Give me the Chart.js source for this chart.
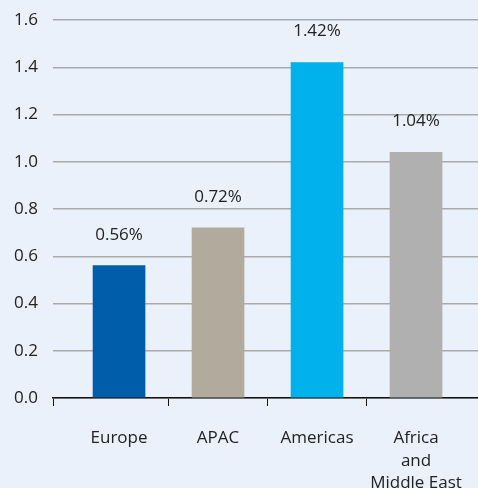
<!DOCTYPE html>
<html>
<head>
<meta charset="utf-8">
<script src="https://cdn.jsdelivr.net/npm/chart.js@4/dist/chart.umd.min.js"></script>
<style>
  html, body { margin: 0; padding: 0; background: #eaf1fb; }
  #wrap { width: 478px; height: 488px; }
</style>
</head>
<body>
<div id="wrap"><canvas id="chart"></canvas></div>
<script>
var categories = [['Europe'], ['APAC'], ['Americas'], ['Africa', 'and', 'Middle East']];
var values = [0.56, 0.72, 1.42, 1.04];
var barColors = ['#005daa', '#b3aa9e', '#00b1eb', '#b0b0b0'];
var yTicks = [0, 0.2, 0.4, 0.6, 0.8, 1.0, 1.2, 1.4, 1.6];

var FONT = "'Open Sans', sans-serif";
var FSIZE = 17;

var valueLabels = {
  id: 'valueLabels',
  afterDatasetsDraw: function(chart) {
    var ctx = chart.ctx;
    var meta = chart.getDatasetMeta(0);
    ctx.save();
    ctx.font = FSIZE + 'px ' + FONT;
    ctx.fillStyle = '#222';
    ctx.textAlign = 'center';
    ctx.textBaseline = 'middle';
    meta.data.forEach(function(bar, i) {
      ctx.fillText(values[i].toFixed(2) + '%', bar.x, bar.y - 31);
    });
    ctx.restore();
  }
};

new Chart(document.getElementById('chart'), {
  type: 'bar',
  data: {
    datasets: [{
      data: values.map(function(v, i) { return { x: i, y: v }; }),
      backgroundColor: barColors,
      barThickness: 52
    }]
  },
  options: {
    responsive: true,
    maintainAspectRatio: false,
    animation: false,
    layout: { padding: { top: 20, right: 0, bottom: 0, left: 0 } },
    plugins: { legend: { display: false }, tooltip: { enabled: false } },
    scales: {
      x: {
        type: 'linear',
        offset: false,
        min: -0.667,
        max: 3.626,
        afterBuildTicks: function(scale) {
          scale.ticks = [-0.667, 0, 0.5, 1, 1.5, 2, 2.5, 3].map(function(v) { return { value: v }; });
        },
        afterFit: function(scale) {
          scale.height = 90;
          scale.paddingLeft = 0;
          scale.paddingRight = 0;
        },
        border: { display: true, color: '#111', width: 1.5 },
        grid: {
          offset: false,
          drawOnChartArea: false,
          drawTicks: true,
          tickLength: 8,
          tickColor: function(c) {
            if (!c.tick) return '#111';
            return Number.isInteger(c.tick.value) ? 'rgba(0,0,0,0)' : '#111';
          }
        },
        ticks: {
          autoSkip: false,
          maxRotation: 0,
          padding: 21,
          color: '#222',
          font: { family: FONT, size: FSIZE, lineHeight: 1.32 },
          callback: function(value) {
            return Number.isInteger(value) ? categories[value] : '';
          }
        }
      },
      y: {
        min: 0,
        max: 1.6,
        afterBuildTicks: function(scale) {
          scale.ticks = yTicks.map(function(v) { return { value: v }; });
        },
        afterFit: function(scale) {
          scale.width = 53;
          scale.paddingTop = 0;
          scale.paddingBottom = 0;
        },
        border: { display: false },
        grid: { color: '#aaa', lineWidth: 1.5, drawTicks: false },
        ticks: {
          padding: 15,
          color: '#222',
          font: { family: FONT, size: FSIZE },
          callback: function(value) { return value.toFixed(1); }
        }
      }
    }
  },
  plugins: [valueLabels]
});
</script>
</body>
</html>
